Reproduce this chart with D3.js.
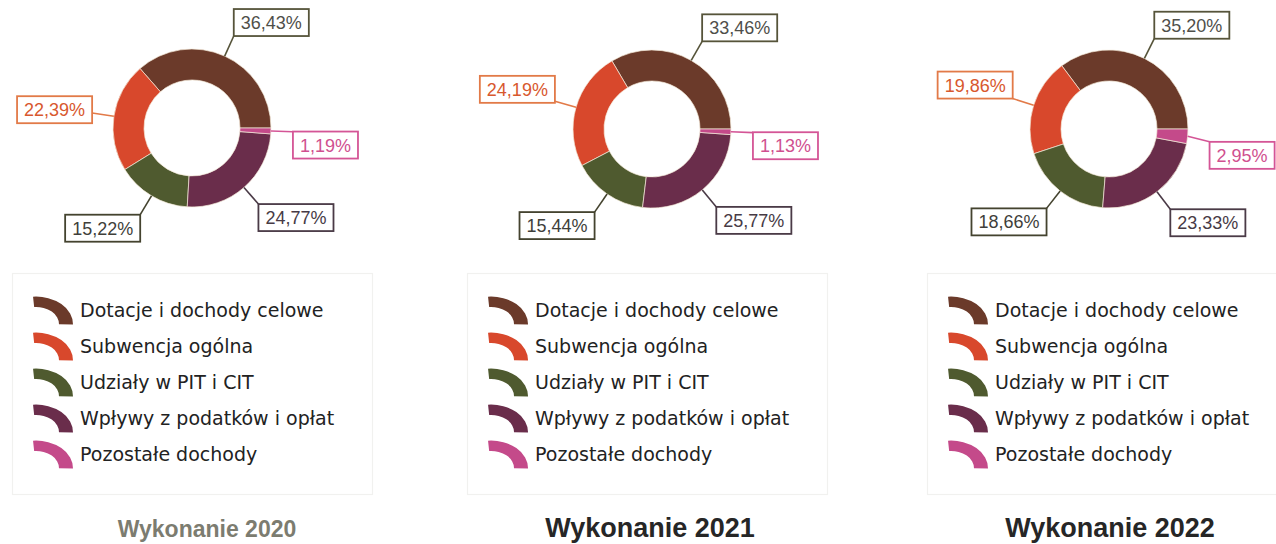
<!DOCTYPE html>
<html lang="pl">
<head>
<meta charset="utf-8">
<script src="https://cdn.jsdelivr.net/npm/d3@7"></script>
<style>
  html, body { margin: 0; padding: 0; background: #ffffff; }
  svg { display: block; }
</style>
</head>
<body>
<svg id="chart" width="1276" height="544"></svg>
<script>
// Struktura dochodów – udział procentowy poszczególnych źródeł
const categories = [
  "Dotacje i dochody celowe",
  "Subwencja ogólna",
  "Udziały w PIT i CIT",
  "Wpływy z podatków i opłat",
  "Pozostałe dochody"
];
const titles = ["Wykonanie 2020", "Wykonanie 2021", "Wykonanie 2022"];
const values2020 = [36.43, 22.39, 15.22, 24.77, 1.19];
const values2021 = [33.46, 24.19, 15.44, 25.77, 1.13];
const values2022 = [35.20, 19.86, 18.66, 23.33, 2.95];

// Kolory segmentów, ramek etykiet i tekstu
const sliceColors = ["#6b3a2a", "#d8482c", "#4f5a2f", "#6a2d4b", "#c44a8a"];
const boxStroke   = ["#56543a", "#e27a48", "#44432f", "#4a3a46", "#d45596"];
const boxText     = ["#4f4f4a", "#d8582e", "#3f3f3b", "#473a45", "#d0508f"];

// Układ trzech paneli
const panels = [
  { values: values2020, cx: 192,  cy: 128, legendX: 12,  titleX: 207, titleSize: 23, titleColor: "#7c7c70" },
  { values: values2021, cx: 652,  cy: 129, legendX: 467, titleX: 650, titleSize: 27, titleColor: "#262626" },
  { values: values2022, cx: 1109, cy: 129, legendX: 927, titleX: 1110, titleSize: 27, titleColor: "#262626" }
];
// Dodatkowe przesunięcie pionowe etykiety małego segmentu
const labelShiftY = [0, 0, 0, 0, 4];

const svg = d3.select("#chart");
const outerR = 79, innerR = 48, leaderLen = 22;
const boxH = 27, boxPad = 7;
const fmt = v => d3.format(".2f")(v).replace(".", ",") + "%";

const pie = d3.pie().sort(null).value(d => d)
  .startAngle(Math.PI / 2).endAngle(Math.PI / 2 - 2 * Math.PI);
const arc = d3.arc().innerRadius(innerR).outerRadius(outerR);
const polar = (a, r) => [Math.sin(a) * r, -Math.cos(a) * r];

panels.forEach((p, pi) => {
  const g = svg.append("g").attr("transform", `translate(${p.cx},${p.cy})`);
  const arcs = pie(p.values);

  g.selectAll("path.slice").data(arcs).enter().append("path")
    .attr("class", "slice")
    .attr("d", arc)
    .attr("fill", (d, i) => sliceColors[i])
    .attr("stroke", "#f3ead8")
    .attr("stroke-width", 0.7);

  // Etykiety z wartościami w ramkach, połączone linią z segmentem
  arcs.forEach((d, i) => {
    const mid = (d.startAngle + d.endAngle) / 2;
    const [x0, y0] = polar(mid, outerR);
    const [ax, ay] = polar(mid, outerR + leaderLen);
    const lg = g.append("g");
    const txt = lg.append("text")
      .attr("font-family", "'Liberation Sans', Arial, sans-serif")
      .attr("font-size", 18)
      .attr("fill", boxText[i])
      .text(fmt(d.data));
    const tw = txt.node().getComputedTextLength();
    const bw = tw + boxPad * 2;
    const right = Math.sin(mid) >= 0;
    const bx = right ? ax : ax - bw;
    const t = Math.max(-1, Math.min(1, -(Math.cos(mid) - 0.1) * 5));
    const by = ay + t * boxH / 2 - boxH / 2 + labelShiftY[i];
    lg.insert("line", "text")
      .attr("x1", x0).attr("y1", y0)
      .attr("x2", ax).attr("y2", Math.max(by, Math.min(by + boxH, ay)))
      .attr("stroke", boxStroke[i]).attr("stroke-width", 1.6);
    lg.insert("rect", "text")
      .attr("x", bx).attr("y", by).attr("width", bw).attr("height", boxH)
      .attr("fill", "#ffffff")
      .attr("stroke", boxStroke[i]).attr("stroke-width", 1.8);
    txt.attr("x", bx + boxPad).attr("y", by + boxH / 2 + 6.5);
  });

  // Legenda
  const lgX = p.legendX, lgY = 273, lgW = 360, lgH = 221;
  const leg = svg.append("g").attr("transform", `translate(${lgX},${lgY})`);
  leg.append("rect")
    .attr("x", 0.5).attr("y", 0.5).attr("width", lgW).attr("height", lgH)
    .attr("fill", "#ffffff").attr("stroke", "#f1f1ef").attr("stroke-width", 1.2);

  const icon = d3.arc().innerRadius(23).outerRadius(37)
    .startAngle(-0.08).endAngle(Math.PI / 2 + 0.02);
  const rowY = d3.scalePoint().domain(categories).range([37, 181]);
  categories.forEach((c, i) => {
    const y = rowY(c);
    leg.append("path")
      .attr("d", icon())
      .attr("transform", `translate(${24},${y + 14}) scale(1,0.74)`)
      .attr("fill", sliceColors[i]);
    leg.append("text")
      .attr("x", 68).attr("y", y + 7)
      .attr("font-family", "'DejaVu Sans', sans-serif")
      .attr("font-size", 19)
      .attr("fill", "#222222")
      .text(c);
  });

  svg.append("text")
    .attr("x", p.titleX).attr("y", 537)
    .attr("text-anchor", "middle")
    .attr("font-family", "'Liberation Sans', Arial, sans-serif")
    .attr("font-weight", "bold")
    .attr("font-size", p.titleSize)
    .attr("fill", p.titleColor)
    .text(titles[pi]);
});
</script>
</body>
</html>
